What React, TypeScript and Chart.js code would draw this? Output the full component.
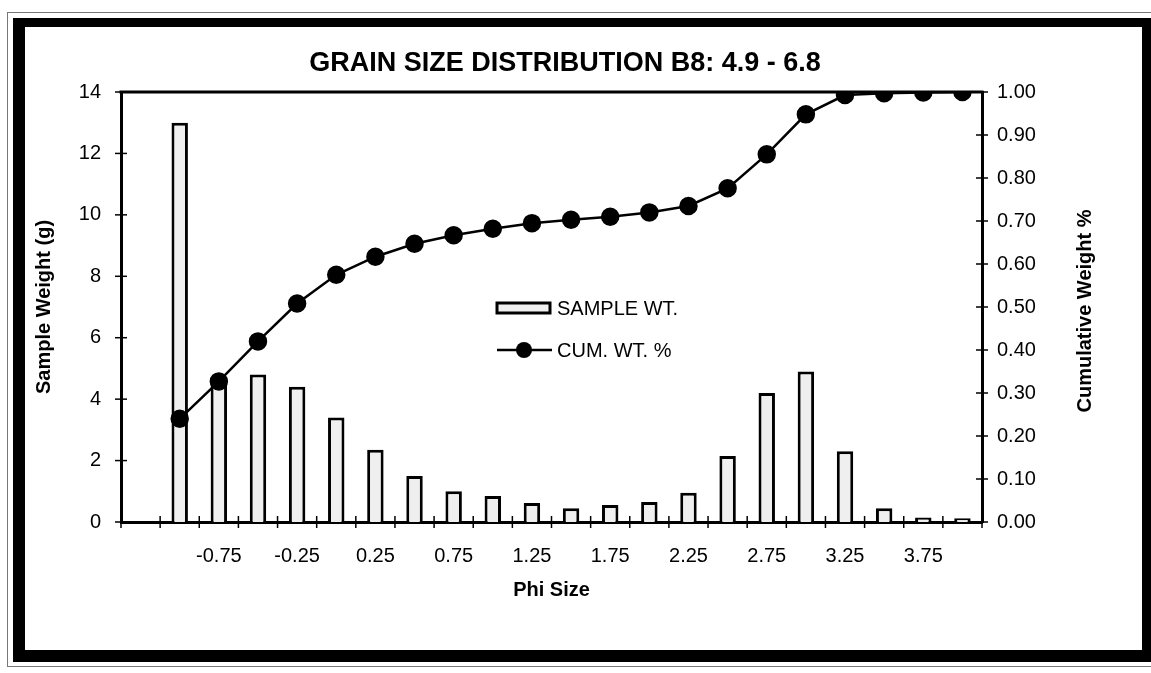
import React, { useEffect, useRef } from "react";
import { Chart, registerables } from "chart.js";

Chart.register(...registerables);

const TITLE = "GRAIN SIZE DISTRIBUTION B8: 4.9 - 6.8";
const X_TITLE = "Phi Size";
const Y_TITLE = "Sample Weight (g)";
const Y2_TITLE = "Cumulative Weight %";

const phiLabels = [
  "", "-1.00", "-0.75", "-0.50", "-0.25", "0.00", "0.25", "0.50", "0.75", "1.00", "1.25",
  "1.50", "1.75", "2.00", "2.25", "2.50", "2.75", "3.00", "3.25", "3.50", "3.75", "4.00",
];
const sampleWt = [
  null, 13.0, 4.55, 4.8, 4.4, 3.4, 2.35, 1.5, 1.0, 0.85, 0.62,
  0.45, 0.55, 0.65, 0.95, 2.15, 4.2, 4.9, 2.3, 0.45, 0.15, 0.12,
];
const cumWt = [
  null, 0.24, 0.327, 0.42, 0.508, 0.575, 0.617, 0.647, 0.667, 0.682, 0.695,
  0.703, 0.71, 0.72, 0.735, 0.776, 0.855, 0.948, 0.993, 0.997, 0.999, 1.0,
];

const FONT = "'Liberation Sans', Arial, Helvetica, sans-serif";
const BAR_FILL = "#efefef";

const decorPlugin = {
  id: "excelDecor",
  afterDraw(chart: any) {
    const ctx = chart.ctx as CanvasRenderingContext2D;
    const ca = chart.chartArea;
    const xs = chart.scales.x;
    const yl = chart.scales.y;
    const yr = chart.scales.y1;
    ctx.save();
    ctx.strokeStyle = "#000";
    ctx.fillStyle = "#000";
    // top frame line of plot area
    ctx.lineWidth = 3;
    ctx.beginPath();
    ctx.moveTo(ca.left - 1.5, ca.top);
    ctx.lineTo(ca.right + 1.5, ca.top);
    ctx.stroke();
    // cross tick marks
    ctx.lineWidth = 1.5;
    const T = 6;
    yl.ticks.forEach((t: any) => {
      const p = yl.getPixelForValue(t.value);
      ctx.beginPath();
      ctx.moveTo(ca.left - T, p);
      ctx.lineTo(ca.left + T, p);
      ctx.stroke();
    });
    yr.ticks.forEach((t: any) => {
      const p = yr.getPixelForValue(t.value);
      ctx.beginPath();
      ctx.moveTo(ca.right - T, p);
      ctx.lineTo(ca.right + T, p);
      ctx.stroke();
    });
    const n = phiLabels.length;
    const half = (xs.getPixelForValue(1) - xs.getPixelForValue(0)) / 2;
    for (let i = 0; i <= n; i++) {
      const px = i < n ? xs.getPixelForValue(i) - half : xs.getPixelForValue(n - 1) + half;
      ctx.beginPath();
      ctx.moveTo(px, ca.bottom - T);
      ctx.lineTo(px, ca.bottom + T);
      ctx.stroke();
    }
    // legend
    const ds = chart.data.datasets;
    const lx = ca.left + 376;
    const ly1 = ca.top + 216;
    const ly2 = ca.top + 258;
    ctx.font = `20px ${FONT}`;
    ctx.textBaseline = "middle";
    ctx.textAlign = "left";
    ctx.fillStyle = BAR_FILL;
    ctx.fillRect(lx, ly1 - 5, 53, 10);
    ctx.lineWidth = 3;
    ctx.strokeRect(lx, ly1 - 5, 53, 10);
    ctx.fillStyle = "#000";
    ctx.fillText(ds[0].label, lx + 60, ly1 + 1);
    ctx.lineWidth = 2.5;
    ctx.beginPath();
    ctx.moveTo(lx, ly2);
    ctx.lineTo(lx + 55, ly2);
    ctx.stroke();
    ctx.beginPath();
    ctx.arc(lx + 27, ly2, 8, 0, Math.PI * 2);
    ctx.fill();
    ctx.fillText(ds[1].label, lx + 60, ly2 + 1);
    // right axis title (reads bottom-to-top)
    ctx.font = `bold 20px ${FONT}`;
    ctx.textAlign = "center";
    ctx.translate(ca.right + 103, (ca.top + ca.bottom) / 2 + 4);
    ctx.rotate(-Math.PI / 2);
    ctx.fillText(Y2_TITLE, 0, 0);
    ctx.restore();
  },
};

export default function App() {
  const ref = useRef<HTMLCanvasElement>(null);
  useEffect(() => {
    if (!ref.current) return;
    Chart.defaults.font.family = FONT;
    Chart.defaults.color = "#000";
    const chart = new Chart(ref.current, {
      type: "bar",
      data: {
        labels: phiLabels,
        datasets: [
          {
            type: "bar",
            label: "SAMPLE WT.",
            data: sampleWt as any,
            yAxisID: "y",
            backgroundColor: BAR_FILL,
            borderColor: "#000",
            borderWidth: 3,
            barPercentage: 0.42,
            categoryPercentage: 1,
            order: 2,
          },
          {
            type: "line",
            label: "CUM. WT. %",
            data: cumWt as any,
            yAxisID: "y1",
            borderColor: "#000",
            backgroundColor: "#000",
            borderWidth: 2.5,
            pointRadius: 8,
            pointBackgroundColor: "#000",
            pointBorderColor: "#000",
            tension: 0,
            order: 1,
          } as any,
        ],
      },
      options: {
        responsive: false,
        animation: false,
        devicePixelRatio: 1,
        layout: { padding: { left: 28, right: 49, top: 27, bottom: 0 } },
        plugins: {
          legend: { display: false },
          tooltip: { enabled: false },
          title: {
            display: true,
            text: TITLE,
            color: "#000",
            font: { size: 27, weight: "bold", family: FONT },
            padding: { top: 20, bottom: 12.6 },
          },
        },
        scales: {
          x: {
            type: "category",
            offset: true,
            grid: { display: false, drawTicks: false },
            border: { display: true, color: "#000", width: 3 },
            ticks: {
              autoSkip: false,
              maxRotation: 0,
              minRotation: 0,
              padding: 22,
              font: { size: 20 },
              color: "#000",
              callback: (_v: any, i: number) => (i % 2 === 0 ? phiLabels[i] : ""),
            },
            title: {
              display: true,
              text: X_TITLE,
              color: "#000",
              font: { size: 20, weight: "bold" },
              padding: { top: 0, bottom: 71 },
            },
            afterFit: (s: any) => {
              s.height = 151;
            },
          },
          y: {
            position: "left",
            min: 0,
            max: 14,
            ticks: { stepSize: 2, padding: 20, font: { size: 20 }, color: "#000" },
            grid: { display: false, drawTicks: false },
            border: { display: true, color: "#000", width: 3 },
            title: {
              display: true,
              text: Y_TITLE,
              color: "#000",
              font: { size: 20, weight: "bold" },
              padding: { top: 4, bottom: 0 },
            },
            afterFit: (s: any) => {
              s.width = 93;
            },
          },
          y1: {
            position: "right",
            min: 0,
            max: 1,
            ticks: {
              stepSize: 0.1,
              padding: 15,
              font: { size: 20 },
              color: "#000",
              callback: (v: any) => Number(v).toFixed(2),
            },
            grid: { display: false, drawTicks: false },
            border: { display: true, color: "#000", width: 3 },
            afterFit: (s: any) => {
              s.width = 120;
            },
          },
        },
      },
      plugins: [decorPlugin],
    });
    return () => chart.destroy();
  }, []);

  return (
    <div style={{ position: "absolute", left: 0, top: 0, width: 1151, height: 673, background: "#fff", overflow: "hidden" }}>
      <canvas ref={ref} width={1151} height={673} style={{ position: "absolute", left: 0, top: 0, width: 1151, height: 673 }} />
      <div style={{ position: "absolute", left: 7, top: 12, width: 1160, height: 655, border: "1px solid #777", boxSizing: "border-box", pointerEvents: "none" }} />
      <div
        style={{
          position: "absolute",
          left: 13,
          top: 18,
          width: 1138,
          height: 644,
          boxSizing: "border-box",
          borderStyle: "solid",
          borderColor: "#000",
          borderWidth: "9px 9px 12px 12px",
          pointerEvents: "none",
        }}
      />
    </div>
  );
}
